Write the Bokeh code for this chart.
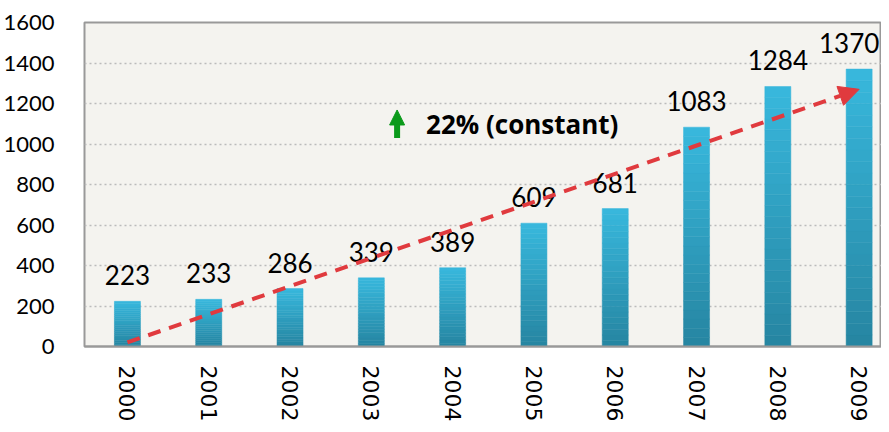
import math
from bokeh.plotting import figure
from bokeh.models import ColumnDataSource, FixedTicker, Arrow, NormalHead, Label
from bokeh.core.properties import value
from bokeh.embed import file_html
from bokeh.resources import INLINE

# ---- data ----
years = ["2000", "2001", "2002", "2003", "2004", "2005", "2006", "2007", "2008", "2009"]
counts = [223, 233, 286, 339, 389, 609, 681, 1083, 1284, 1370]
y_ticks = [0, 200, 400, 600, 800, 1000, 1200, 1400, 1600]
trend_values = [20, 1270]          # dashed trend arrow, start/end value
growth_label = "22% (constant)"
growth_label_y = 1100

# ---- figure ----
p = figure(width=881, height=424, output_backend="svg", toolbar_location=None,
           x_range=(-0.528, 9.275), y_range=(0, 1600),
           min_border_left=83, min_border_right=0, min_border_top=22, min_border_bottom=78)
p.background_fill_color = "#F4F3EF"
p.border_fill_color = "white"
p.outline_line_color = "#999999"
p.outline_line_width = 2

idx = list(range(len(years)))

# gradient bars built from stacked slices
N = 24
top_c = (0x38, 0xB8, 0xDD)
bot_c = (0x26, 0x85, 0xA1)
def mix(t):
    return "#%02x%02x%02x" % tuple(int(round(b + (a - b) * t)) for a, b in zip(top_c, bot_c))
xs, bots, tops, cols = [], [], [], []
for i, v in zip(idx, counts):
    for k in range(N):
        xs.append(i)
        bots.append(v * k / N)
        tops.append(v * (k + 1) / N)
        cols.append(mix((k + 0.5) / N))
p.vbar(x=xs, bottom=bots, top=tops, width=0.32, fill_color=cols, line_color=cols, line_width=0.5)

# value labels (last one nudged left so it stays inside the frame)
x_off = [0] * (len(idx) - 1) + [-10]
src = ColumnDataSource(dict(x=idx, y=counts, t=[str(c) for c in counts], xo=x_off))
p.text(x="x", y="y", text="t", source=src, text_align="center", text_baseline="bottom",
       x_offset="xo", y_offset=-16, text_font=value("Lato"), text_font_size="26px",
       text_color="black")

# trend arrow
p.add_layout(Arrow(x_start=idx[0], y_start=trend_values[0], x_end=idx[-1], y_end=trend_values[1],
                   line_color="#E03A3E", line_width=4, line_dash="13 9",
                   end=NormalHead(size=20, fill_color="#E03A3E", line_color="#E03A3E")))

# growth annotation
p.add_layout(Arrow(x_start=3.317, y_start=growth_label_y - 70, x_end=3.317, y_end=growth_label_y + 68,
                   line_color="#0A9A1A", line_width=6,
                   end=NormalHead(size=15, fill_color="#0A9A1A", line_color="#0A9A1A")))
p.add_layout(Label(x=3.673, y=growth_label_y, text=growth_label, text_baseline="middle",
                   text_font="Open Sans", text_font_style="bold", text_font_size="26px",
                   text_color="black"))

# axes
p.yaxis.ticker = FixedTicker(ticks=y_ticks)
p.yaxis.axis_line_color = None
p.yaxis.major_tick_line_color = None
p.yaxis.minor_tick_line_color = None
p.yaxis.major_label_standoff = 24
p.yaxis.major_label_text_font = "Lato"
p.yaxis.major_label_text_font_size = "22px"
p.yaxis.major_label_text_color = "black"

p.xaxis.ticker = FixedTicker(ticks=idx)
p.xaxis.major_label_overrides = {i: y for i, y in zip(idx, years)}
p.xaxis.major_label_orientation = -math.pi / 2
p.xaxis.axis_line_color = "#999999"
p.xaxis.axis_line_width = 2
p.xaxis.major_tick_line_color = None
p.xaxis.minor_tick_line_color = None
p.xaxis.major_label_standoff = 13
p.xaxis.major_label_text_font = "DejaVu Sans"
p.xaxis.major_label_text_font_size = "22px"
p.xaxis.major_label_text_color = "black"

p.xgrid.grid_line_color = None
p.ygrid.ticker = FixedTicker(ticks=y_ticks[1:-1])
p.ygrid.grid_line_color = "#BBBBBB"
p.ygrid.grid_line_dash = "2 3"
p.ygrid.grid_line_width = 1.5

open("out.html", "w").write(file_html(p, INLINE))
